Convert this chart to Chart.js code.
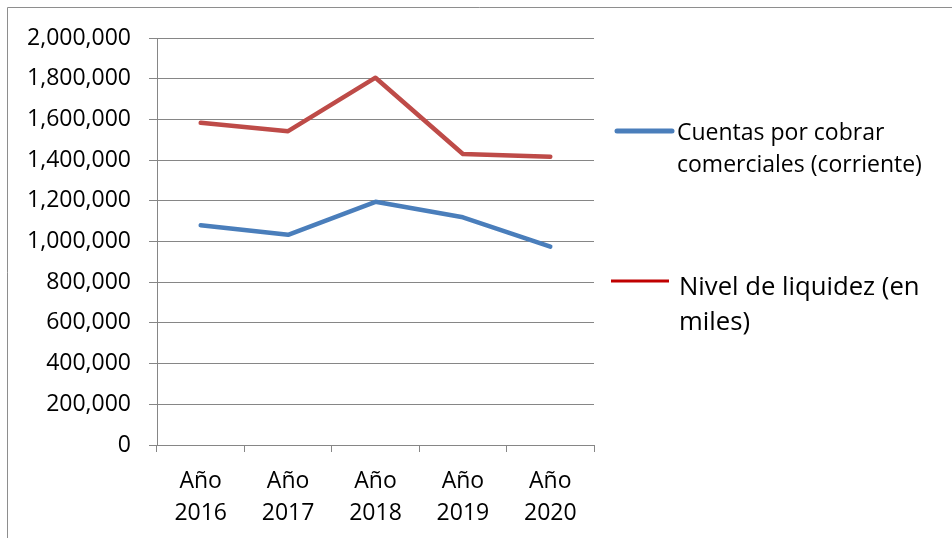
<!DOCTYPE html>
<html>
<head>
<meta charset="utf-8">
<script src="https://cdn.jsdelivr.net/npm/chart.js@4/dist/chart.umd.min.js"></script>
<style>
  html, body { margin: 0; padding: 0; background: #ffffff; }
  #wrap { position: relative; width: 952px; height: 538px; }
</style>
</head>
<body>
<div id="wrap"><canvas id="c" width="952" height="538"></canvas></div>
<script>
// Años del periodo analizado
const categories = [['Año', '2016'], ['Año', '2017'], ['Año', '2018'], ['Año', '2019'], ['Año', '2020']];

// Cuentas por cobrar comerciales (corriente)
const cuentasPorCobrar = [1080000, 1033000, 1195000, 1119000, 975000];

// Nivel de liquidez (en miles)
const nivelLiquidez = [1583000, 1542000, 1805000, 1430000, 1417000];

const seriesLabels = ['Cuentas por cobrar comerciales (corriente)', 'Nivel de liquidez (en miles)'];

const yTicks = { min: 0, max: 2000000, step: 200000 };

const FONT = '"Open Sans", "Liberation Sans", sans-serif';
const GRID = '#868686';

// Marco exterior del gráfico (bordes superior e izquierdo)
const framePlugin = {
  id: 'frame',
  beforeDraw(chart) {
    const ctx = chart.ctx;
    ctx.save();
    ctx.strokeStyle = '#8e8e8e';
    ctx.lineWidth = 1;
    ctx.beginPath();
    ctx.moveTo(7.5, 538);
    ctx.lineTo(7.5, 7.5);
    ctx.lineTo(952, 7.5);
    ctx.stroke();
    ctx.restore();
  }
};

// Leyenda a la derecha con texto en varias líneas
const sideLegend = {
  id: 'sideLegend',
  afterDraw(chart) {
    const ctx = chart.ctx;
    const items = [
      { ds: 0, x0: 617, x1: 672, y: 131, lw: 5, color: '#4A7EBB', cap: 'round', tx: 677, base: 140, lh: 31.7, size: 23, wrap: 275 },
      { ds: 1, x0: 611, x1: 669, y: 281, lw: 3, color: '#C00000', cap: 'butt', tx: 679, base: 295, lh: 35, size: 25.7, wrap: 262 }
    ];
    ctx.save();
    items.forEach(it => {
      ctx.strokeStyle = it.color;
      ctx.lineWidth = it.lw;
      ctx.lineCap = it.cap;
      ctx.beginPath();
      ctx.moveTo(it.x0, it.y);
      ctx.lineTo(it.x1, it.y);
      ctx.stroke();

      ctx.fillStyle = '#000000';
      ctx.font = it.size + 'px ' + FONT;
      ctx.textAlign = 'left';
      ctx.textBaseline = 'alphabetic';
      const words = chart.data.datasets[it.ds].label.split(' ');
      const lines = [];
      let cur = '';
      words.forEach(w => {
        const test = cur ? cur + ' ' + w : w;
        if (ctx.measureText(test).width > it.wrap && cur) {
          lines.push(cur);
          cur = w;
        } else {
          cur = test;
        }
      });
      if (cur) lines.push(cur);
      lines.forEach((ln, i) => ctx.fillText(ln, it.tx, it.base + i * it.lh));
    });
    ctx.restore();
  }
};

new Chart(document.getElementById('c'), {
  type: 'line',
  data: {
    labels: categories,
    datasets: [
      {
        label: seriesLabels[0],
        data: cuentasPorCobrar,
        borderColor: '#4A7EBB',
        backgroundColor: '#4A7EBB',
        borderWidth: 4.5,
        pointRadius: 0,
        tension: 0,
        borderCapStyle: 'round',
        borderJoinStyle: 'round'
      },
      {
        label: seriesLabels[1],
        data: nivelLiquidez,
        borderColor: '#BE4B48',
        backgroundColor: '#BE4B48',
        borderWidth: 4.5,
        pointRadius: 0,
        tension: 0,
        borderCapStyle: 'round',
        borderJoinStyle: 'round'
      }
    ]
  },
  options: {
    responsive: false,
    animation: false,
    layout: { padding: { left: 0, right: 358, top: 38, bottom: 0 } },
    plugins: {
      legend: { display: false },
      tooltip: { enabled: false }
    },
    scales: {
      x: {
        type: 'category',
        offset: true,
        afterFit(scale) { scale.height = 93; },
        grid: {
          offset: true,
          drawOnChartArea: false,
          drawTicks: true,
          tickLength: 7,
          color: GRID,
          lineWidth: 1
        },
        border: { display: true, color: GRID, width: 1 },
        ticks: {
          color: '#000000',
          padding: 13,
          maxRotation: 0,
          autoSkip: false,
          font: { family: FONT, size: 23, lineHeight: 1.39 }
        }
      },
      y: {
        min: yTicks.min,
        max: yTicks.max,
        afterFit(scale) { scale.width = 157; },
        grid: {
          color: GRID,
          lineWidth: 1,
          drawTicks: true,
          tickLength: 8
        },
        border: { display: true, color: GRID, width: 1 },
        ticks: {
          stepSize: yTicks.step,
          color: '#000000',
          padding: 18,
          font: { family: FONT, size: 23 },
          callback: v => v.toLocaleString('en-US')
        }
      }
    }
  },
  plugins: [framePlugin, sideLegend]
});
</script>
</body>
</html>
